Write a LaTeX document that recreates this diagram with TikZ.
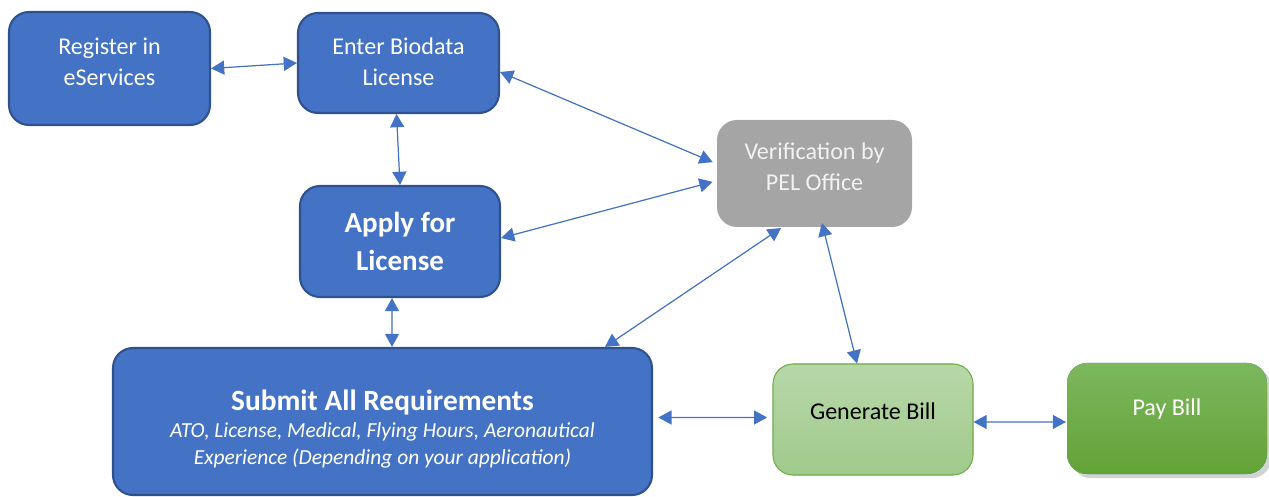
\documentclass[tikz,border=0pt]{standalone}
\usepackage{fontspec}
\setmainfont{Carlito}
\usepackage{xcolor}
\usepackage{tikz}
\usetikzlibrary{arrows.meta, positioning, calc, shadows}
\definecolor{boxblue}{RGB}{68, 114, 196}
\definecolor{edgeblue}{RGB}{47, 82, 143}
\definecolor{pelgray}{RGB}{165, 165, 165}
\definecolor{billtop}{RGB}{183, 215, 168}
\definecolor{billbot}{RGB}{160, 202, 140}
\definecolor{billedge}{RGB}{112, 173, 71}
\definecolor{paytop}{RGB}{124, 183, 93}
\definecolor{paybot}{RGB}{98, 163, 54}

\begin{document}
\begin{tikzpicture}[
    stage/.style={rectangle, rounded corners=0.4cm, fill=boxblue, draw=edgeblue, line width=1.2pt},
    words/.style={text=white, align=center, font=\fontsize{13.7}{17.5}\selectfont},
    link/.style={draw=boxblue, line width=0.7pt,
        {Triangle[length=7.5pt,width=8pt]}-{Triangle[length=7.5pt,width=8pt]}}
]
    \useasboundingbox (0,0) rectangle (25.38,-9.94);

    % Blue steps
    \node[stage, minimum width=4.02cm, minimum height=2.26cm,
        label={[words, yshift=0.14cm]center:Register in\\eServices}] (reg) at (2.19,-1.37) {};
    \node[stage, minimum width=4.02cm, minimum height=2.0cm,
        label={[words, yshift=0.02cm]center:Enter Biodata\\License}] (bio) at (7.97,-1.26) {};
    \node[stage, minimum width=4.0cm, minimum height=2.22cm,
        label={[words, font=\fontsize{16.5}{21.5}\selectfont\bfseries]center:Apply for\\License}] (apply) at (8.0,-4.83) {};
    \node[stage, minimum width=10.78cm, minimum height=2.94cm,
        label={[words, yshift=-0.15cm, font=\fontsize{12.2}{15.3}\selectfont]center:%
        {\fontsize{16.7}{17.6}\selectfont\bfseries Submit All Requirements}\\
        {\itshape ATO, License, Medical, Flying Hours, Aeronautical}\\
        {\itshape Experience (Depending on your application)}}] (submit) at (7.65,-8.43) {};

    % Office check
    \node[stage, fill=pelgray, draw=none, minimum width=3.9cm, minimum height=2.14cm,
        label={[words, text=white!95!black, yshift=0.14cm]center:Verification by\\PEL Office}] (verif) at (16.29,-3.47) {};

    % Billing
    \node[stage, top color=billtop, bottom color=billbot, draw=billedge, line width=0.6pt,
        minimum width=4.0cm, minimum height=2.22cm,
        label={[words, text=black, yshift=0.16cm]center:Generate Bill}] (gen) at (17.46,-8.39) {};
    \node[stage, top color=paytop, bottom color=paybot, draw=none, drop shadow={opacity=0.35},
        minimum width=4.0cm, minimum height=2.22cm,
        label={[words, yshift=0.19cm]center:Pay Bill}] (pay) at (23.34,-8.37) {};

    % Connectors
    \draw[link] (reg.east) -- (bio.west);
    \draw[link] ($(bio.south)+(-0.04,0)$) -- (apply.north);
    \draw[link, shorten >=2pt] ($(bio.east)+(0,-0.18)$) -- ($(verif.west)+(0,0.2)$);
    \draw[link, shorten >=2pt] ($(apply.east)+(0,0.07)$) -- ($(verif.west)+(0,-0.15)$);
    \draw[link] ($(apply.south)+(-0.16,0)$) -- ($(submit.north)+(0.19,0)$);
    \draw[link] ($(submit.north)+(4.45,0)$) -- ($(verif.south)+(-0.67,0)$);
    \draw[link] ($(verif.south)+(0.15,0.1)$) -- ($(gen.north)+(-0.32,0)$);
    \draw[link, shorten <=3pt, shorten >=3pt] ($(submit.east)+(0,0.08)$) -- ($(gen.west)+(0,0.04)$);
    \draw[link] ($(gen.east)+(0,-0.05)$) -- ($(pay.west)+(0,-0.07)$);
\end{tikzpicture}
\end{document}
